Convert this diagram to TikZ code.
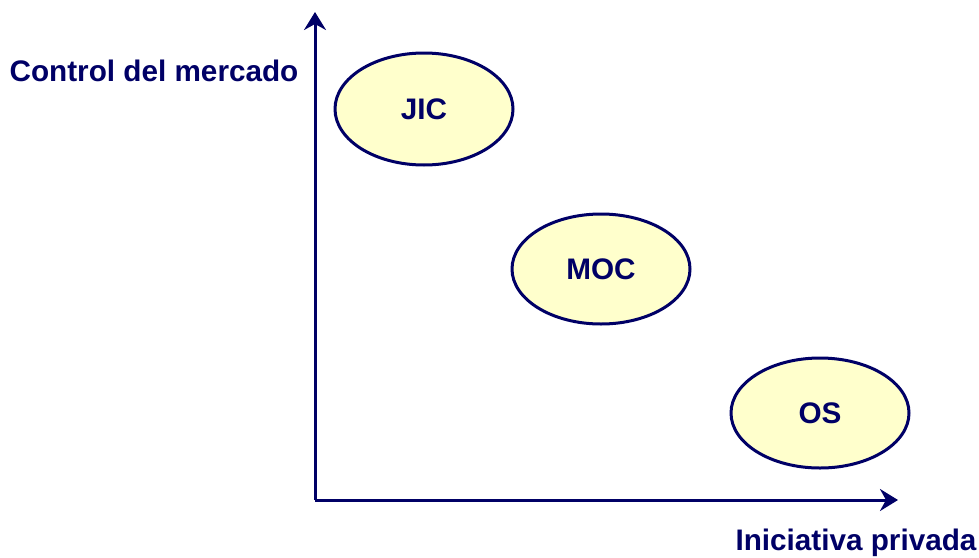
\documentclass[tikz,border=0pt]{standalone}
\usepackage{fontspec}
\setmainfont{Liberation Sans}
\usetikzlibrary{arrows.meta,shapes.geometric}
\definecolor{navy}{HTML}{000066}
\definecolor{pale}{HTML}{FFFFCC}
\begin{document}
\begin{tikzpicture}[x=1pt,y=-1pt,
  axis/.style={navy,line width=3pt,-{Stealth[length=18pt,width=22pt,inset=6pt]}},
  blob/.style={ellipse,draw=navy,line width=3pt,fill=pale,minimum width=178pt,minimum height=112pt,inner sep=0pt,font=\bfseries\fontsize{29.7}{34}\selectfont,text=navy},
  lbl/.style={font=\bfseries\fontsize{29.7}{34}\selectfont,text=navy}]
\useasboundingbox (0,0) rectangle (979,557);
\coordinate (o) at (315,500);
\coordinate (ytop) at (315,12);
\coordinate (xend) at (898,500);
\draw[axis] (o) -- (ytop);
\draw[axis] (o) -- (xend);
\node[blob] (jic) at (424,109) {JIC};
\node[blob,minimum height=110pt] (moc) at (601,269) {MOC};
\node[blob,minimum height=110pt] (os) at (820,413) {OS};
\node[lbl] (yl) at (154,71) {Control del mercado};
\node[lbl] (xl) at (856,543) {Iniciativa privada};
\end{tikzpicture}
\end{document}
